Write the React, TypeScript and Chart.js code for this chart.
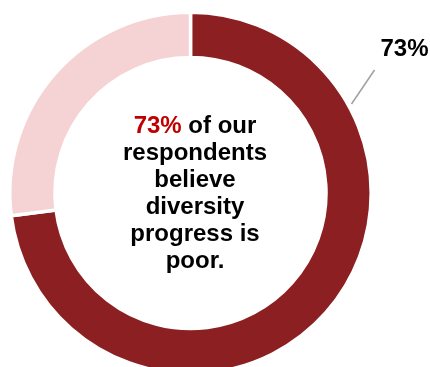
import React, { useEffect, useRef } from "react";
import { Chart, registerables } from "chart.js";

Chart.register(...registerables);

const categories = ["Poor", "Not poor"];
const values = [73, 27];
const colors = ["#8C1F21", "#F5D3D4"];
const outsideLabel = "73%";
const highlight = "73%";
const centerLines = ["of our", "respondents", "believe", "diversity", "progress is", "poor."];

const FONT = "bold 24px 'Liberation Sans', Arial, sans-serif";

const labelsPlugin = {
  id: "labelsPlugin",
  afterDraw(chart: any) {
    const ctx = chart.ctx;
    const arc = chart.getDatasetMeta(0).data[0];
    if (!arc) return;
    const cx = arc.x;
    const cy = arc.y;
    ctx.save();
    ctx.font = FONT;
    ctx.textBaseline = "alphabetic";
    const tx = cx + 4.5;
    const base = cy - 60;
    const lh = 27;
    const first = highlight + " ";
    const w1 = ctx.measureText(first).width;
    const w2 = ctx.measureText(centerLines[0]).width;
    const x0 = tx - (w1 + w2) / 2;
    ctx.textAlign = "left";
    ctx.fillStyle = "#C00000";
    ctx.fillText(highlight, x0, base);
    ctx.fillStyle = "#000000";
    ctx.fillText(centerLines[0], x0 + w1, base);
    ctx.textAlign = "center";
    for (let i = 1; i < centerLines.length; i++) {
      ctx.fillText(centerLines[i], tx, base + i * lh);
    }
    ctx.strokeStyle = "#A0A0A0";
    ctx.lineWidth = 1.5;
    ctx.beginPath();
    ctx.moveTo(cx + 161, cy - 89);
    ctx.lineTo(cx + 184, cy - 123);
    ctx.stroke();
    ctx.textAlign = "left";
    ctx.fillStyle = "#000000";
    ctx.fillText(outsideLabel, cx + 190, cy - 137);
    ctx.restore();
  },
};

export default function App() {
  const ref = useRef<HTMLCanvasElement>(null);
  useEffect(() => {
    document.body.style.margin = "0";
    const chart = new Chart(ref.current!, {
      type: "doughnut",
      data: {
        labels: categories,
        datasets: [
          {
            data: values,
            backgroundColor: colors,
            borderColor: "#FFFFFF",
            borderWidth: 3.5,
          },
        ],
      },
      options: {
        responsive: false,
        maintainAspectRatio: false,
        animation: false,
        radius: 180.7,
        cutout: "75%",
        layout: { padding: { left: 0, top: 19, right: 49, bottom: 0 } },
        plugins: { legend: { display: false }, tooltip: { enabled: false } },
        events: [],
      } as any,
      plugins: [labelsPlugin],
    });
    return () => chart.destroy();
  }, []);
  return (
    <div style={{ width: 430, height: 367, overflow: "hidden", background: "#fff" }}>
      <canvas ref={ref} width={430} height={367} style={{ display: "block", width: 430, height: 367 }} />
    </div>
  );
}
